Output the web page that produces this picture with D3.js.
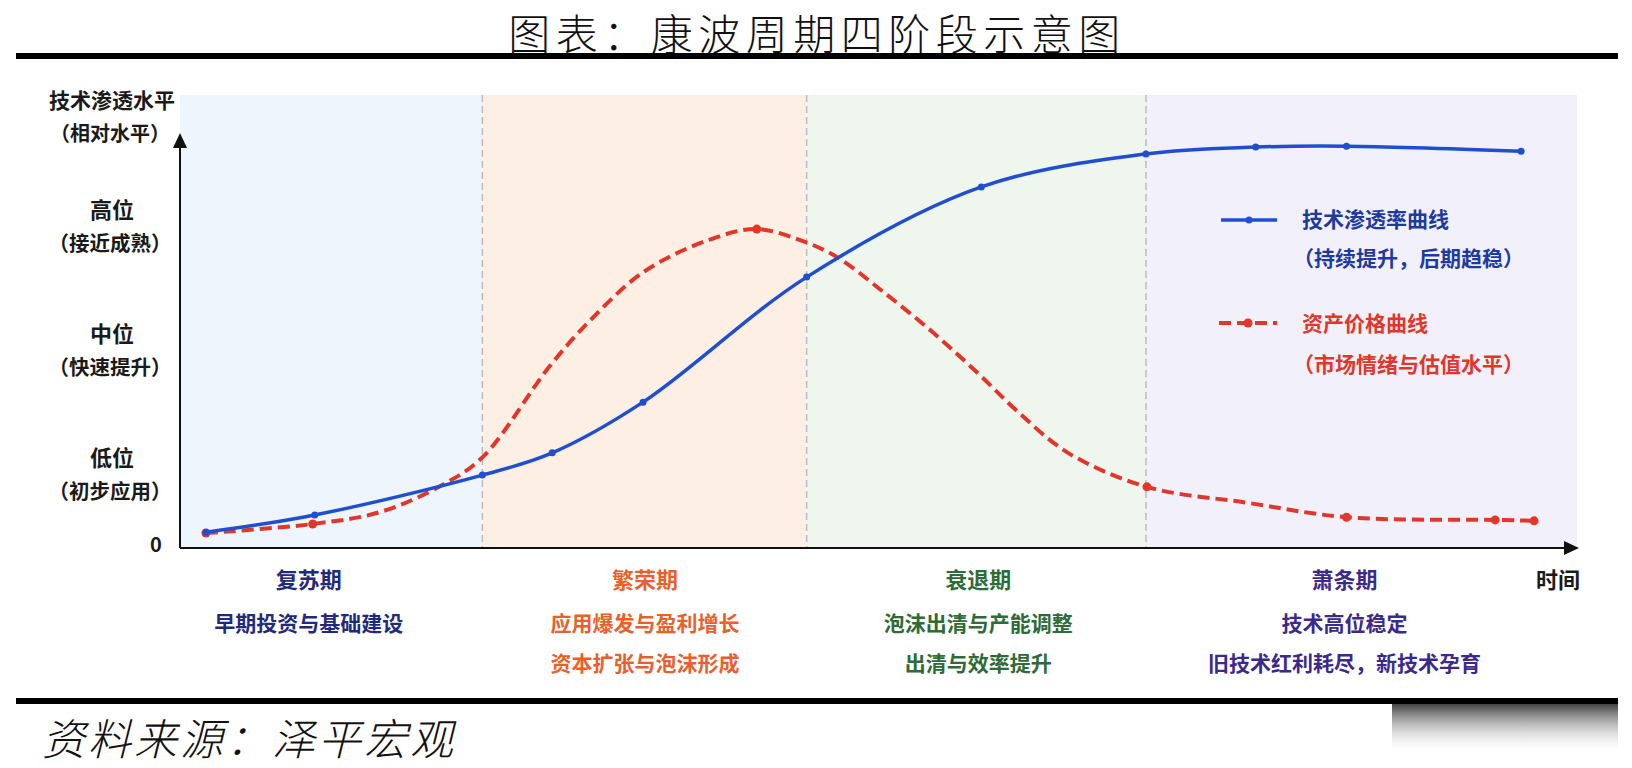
<!DOCTYPE html>
<html>
<head>
<meta charset="utf-8">
<script src="https://cdn.jsdelivr.net/npm/d3@7"></script>
<style>
  html, body { margin: 0; padding: 0; background: #fff; }
  svg { display: block; font-family: "Noto Sans CJK SC", "Noto Sans", sans-serif; }
</style>
</head>
<body>
<svg id="chart"></svg>
<script>
// Canvas
const WIDTH = 1632;
const HEIGHT = 768;

// Phases (time units on x)
const PHASE_NAMES = ['复苏期', '繁荣期', '衰退期', '萧条期'];
const PHASE_LINE1 = ['早期投资与基础建设', '应用爆发与盈利增长', '泡沫出清与产能调整', '技术高位稳定'];
const PHASE_LINE2 = ['', '资本扩张与泡沫形成', '出清与效率提升', '旧技术红利耗尽，新技术孕育'];
const PHASE_START = [0, 3.03, 6.28, 9.68];
const PHASE_END = [3.03, 6.28, 9.68, 14];
const PHASE_LABEL_X = [1.29, 4.66, 8.0, 11.67];
const PHASE_FILL = ['#eef5fd', '#fdefe4', '#eff6ee', '#f2f0fa'];
const PHASE_COLOR = ['#1f2a7c', '#e8612c', '#2e6b36', '#3b2a8c'];

// Y levels
const LEVEL_NAMES = ['低位', '中位', '高位'];
const LEVEL_NOTES = ['（初步应用）', '（快速提升）', '（接近成熟）'];
const LEVEL_VALUES = [1.66, 4.39, 7.13];

// Technology penetration curve
const techX = [0.26, 1.35, 3.03, 3.73, 4.64, 6.28, 8.03, 9.68, 10.78, 11.69, 13.44];
const techY = [0.35, 0.73, 1.61, 2.10, 3.22, 5.98, 7.97, 8.70, 8.85, 8.87, 8.76];

// Asset price curve (marker = visible dot)
const priceX = [0.26, 1.33, 2.0, 2.61, 3.03, 3.7, 4.1, 4.65, 5.3, 5.78, 6.27, 6.6, 7.05, 7.55, 8.0, 8.4, 8.9, 9.69, 10.69, 11.69, 13.18, 13.57];
const priceY = [0.33, 0.53, 0.79, 1.37, 2.0, 4.0, 5.0, 6.1, 6.8, 7.04, 6.75, 6.4, 5.65, 4.75, 3.85, 3.0, 2.1, 1.35, 1.0, 0.68, 0.62, 0.60];
const priceMarker = [1, 1, 0, 0, 0, 0, 0, 0, 0, 1, 0, 0, 0, 0, 0, 0, 0, 1, 0, 1, 1, 1];

const BLUE = '#1f4fd0';
const RED = '#e2362b';

const svg = d3.select('#chart').attr('width', WIDTH).attr('height', HEIGHT);

const x = d3.scaleLinear().domain([0, 14]).range([180, 1577]);
const y = d3.scaleLinear().domain([0, 10]).range([548, 95]);

// Title + rules
svg.append('text')
    .attr('x', 817).attr('y', 31)
    .attr('text-anchor', 'middle').attr('dominant-baseline', 'central')
    .attr('font-size', 42).attr('font-weight', 300)
    .attr('letter-spacing', 5.5)
    .attr('fill', '#111')
    .text('图表：康波周期四阶段示意图');

svg.append('rect').attr('x', 16).attr('y', 53).attr('width', 1602).attr('height', 6).attr('fill', '#000');
svg.append('rect').attr('x', 16).attr('y', 698).attr('width', 1602).attr('height', 6).attr('fill', '#000');

// Footer
svg.append('text')
    .attr('x', 42).attr('y', 736)
    .attr('dominant-baseline', 'central')
    .attr('font-size', 43).attr('font-style', 'italic').attr('font-weight', 300)
    .attr('letter-spacing', 3)
    .attr('fill', '#111')
    .text('资料来源：泽平宏观');

// faded grey smudge bottom right
const defs = svg.append('defs');
const grad = defs.append('linearGradient').attr('id', 'smudge').attr('x1', 0).attr('y1', 0).attr('x2', 0).attr('y2', 1);
grad.append('stop').attr('offset', '0%').attr('stop-color', '#222').attr('stop-opacity', 0.85);
grad.append('stop').attr('offset', '100%').attr('stop-color', '#ccc').attr('stop-opacity', 0.05);
svg.append('rect').attr('x', 1392).attr('y', 704).attr('width', 226).attr('height', 44).attr('fill', 'url(#smudge)');

// Phase backgrounds
const g = svg.append('g');
g.selectAll('rect.phase')
    .data(PHASE_NAMES)
    .join('rect')
    .attr('class', 'phase')
    .attr('x', (d, i) => x(PHASE_START[i]))
    .attr('y', y(10))
    .attr('width', (d, i) => x(PHASE_END[i]) - x(PHASE_START[i]))
    .attr('height', y(0) - y(10))
    .attr('fill', (d, i) => PHASE_FILL[i]);

// Phase dividers
g.selectAll('line.divider')
    .data(PHASE_START.slice(1))
    .join('line')
    .attr('x1', d => x(d)).attr('x2', d => x(d))
    .attr('y1', y(10)).attr('y2', y(0))
    .attr('stroke', '#b9bcc0').attr('stroke-width', 1.5)
    .attr('stroke-dasharray', '7,4');

// Axes with arrows
svg.append('line')
    .attr('x1', x(0)).attr('x2', x(14) - 10)
    .attr('y1', y(0)).attr('y2', y(0))
    .attr('stroke', '#111').attr('stroke-width', 2);
svg.append('path')
    .attr('d', `M${x(14) + 2},${y(0)} l-15,-7 l0,14 z`)
    .attr('fill', '#111');
svg.append('line')
    .attr('x1', x(0)).attr('x2', x(0))
    .attr('y1', y(0)).attr('y2', 146)
    .attr('stroke', '#111').attr('stroke-width', 2);
svg.append('path')
    .attr('d', `M${x(0)},133 l-7,15 l14,0 z`)
    .attr('fill', '#111');

// Y labels
svg.append('text').attr('x', 112).attr('y', 99)
    .attr('text-anchor', 'middle').attr('dominant-baseline', 'central')
    .attr('font-size', 21).attr('font-weight', 700).attr('fill', '#1a1a1a')
    .text('技术渗透水平');
svg.append('text').attr('x', 110).attr('y', 132)
    .attr('text-anchor', 'middle').attr('dominant-baseline', 'central')
    .attr('font-size', 20).attr('font-weight', 700).attr('fill', '#1a1a1a')
    .text('（相对水平）');

LEVEL_NAMES.forEach((name, i) => {
    svg.append('text').attr('x', 112).attr('y', y(LEVEL_VALUES[i]) - 17)
        .attr('text-anchor', 'middle').attr('dominant-baseline', 'central')
        .attr('font-size', 22).attr('font-weight', 700).attr('fill', '#1a1a1a')
        .text(name);
    svg.append('text').attr('x', 110).attr('y', y(LEVEL_VALUES[i]) + 17)
        .attr('text-anchor', 'middle').attr('dominant-baseline', 'central')
        .attr('font-size', 20.5).attr('font-weight', 700).attr('fill', '#1a1a1a')
        .text(LEVEL_NOTES[i]);
});
svg.append('text').attr('x', 156).attr('y', y(0) - 5)
    .attr('text-anchor', 'middle').attr('dominant-baseline', 'central')
    .attr('font-size', 20).attr('font-weight', 700).attr('fill', '#1a1a1a')
    .text('0');

// Phase labels under the axis
PHASE_NAMES.forEach((name, i) => {
    const cx = x(PHASE_LABEL_X[i]);
    svg.append('text').attr('x', cx).attr('y', 578)
        .attr('text-anchor', 'middle').attr('dominant-baseline', 'central')
        .attr('font-size', 22).attr('font-weight', 700).attr('fill', PHASE_COLOR[i])
        .text(name);
    svg.append('text').attr('x', cx).attr('y', 622)
        .attr('text-anchor', 'middle').attr('dominant-baseline', 'central')
        .attr('font-size', 21).attr('font-weight', 700).attr('fill', PHASE_COLOR[i])
        .text(PHASE_LINE1[i]);
    if (PHASE_LINE2[i]) {
        svg.append('text').attr('x', cx).attr('y', 662)
            .attr('text-anchor', 'middle').attr('dominant-baseline', 'central')
            .attr('font-size', 21).attr('font-weight', 700).attr('fill', PHASE_COLOR[i])
            .text(PHASE_LINE2[i]);
    }
});
svg.append('text').attr('x', x(13.81)).attr('y', 578)
    .attr('text-anchor', 'middle').attr('dominant-baseline', 'central')
    .attr('font-size', 22).attr('font-weight', 700).attr('fill', '#1a1a1a')
    .text('时间');

// Curves
const line = d3.line()
    .x(d => x(d[0]))
    .y(d => y(d[1]))
    .curve(d3.curveCatmullRom.alpha(0.5));

const techPts = techX.map((v, i) => [v, techY[i]]);
const pricePts = priceX.map((v, i) => [v, priceY[i]]);

svg.append('path')
    .attr('d', line(pricePts))
    .attr('fill', 'none').attr('stroke', RED)
    .attr('stroke-width', 4).attr('stroke-dasharray', '12,6');
svg.selectAll('circle.price')
    .data(pricePts.filter((d, i) => priceMarker[i]))
    .join('circle')
    .attr('class', 'price')
    .attr('cx', d => x(d[0])).attr('cy', d => y(d[1]))
    .attr('r', 4.5).attr('fill', RED);

svg.append('path')
    .attr('d', line(techPts))
    .attr('fill', 'none').attr('stroke', BLUE)
    .attr('stroke-width', 3.5);
svg.selectAll('circle.tech')
    .data(techPts)
    .join('circle')
    .attr('class', 'tech')
    .attr('cx', d => x(d[0])).attr('cy', d => y(d[1]))
    .attr('r', 3.5).attr('fill', BLUE);

// Legend
const legend = svg.append('g');
legend.append('line').attr('x1', 1221).attr('x2', 1277).attr('y1', 220).attr('y2', 220)
    .attr('stroke', BLUE).attr('stroke-width', 3.5);
legend.append('circle').attr('cx', 1249).attr('cy', 220).attr('r', 3.5).attr('fill', BLUE);
legend.append('line').attr('x1', 1219).attr('x2', 1277).attr('y1', 323).attr('y2', 323)
    .attr('stroke', RED).attr('stroke-width', 4).attr('stroke-dasharray', '12,6');
legend.append('circle').attr('cx', 1248).attr('cy', 323).attr('r', 4.5).attr('fill', RED);

const legendText = [
    ['技术渗透率曲线', 1302, 218, 21, '#1d3aa0'],
    ['（持续提升，后期趋稳）', 1293, 257, 21, '#1d3aa0'],
    ['资产价格曲线', 1302, 322, 21, RED],
    ['（市场情绪与估值水平）', 1293, 363, 21, RED]
];
legend.selectAll('text')
    .data(legendText)
    .join('text')
    .attr('x', d => d[1]).attr('y', d => d[2])
    .attr('dominant-baseline', 'central')
    .attr('font-size', d => d[3]).attr('font-weight', 700)
    .attr('fill', d => d[4])
    .text(d => d[0]);
</script>
</body>
</html>
